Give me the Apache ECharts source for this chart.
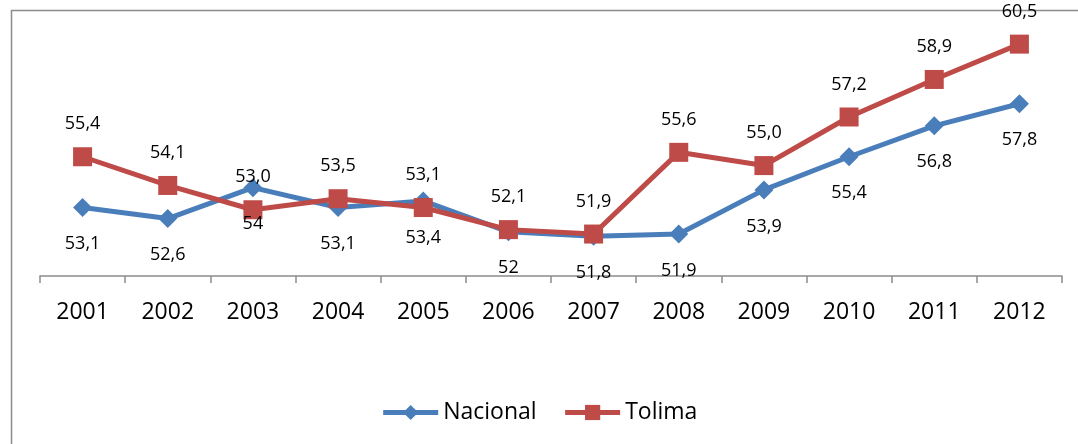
<!DOCTYPE html>
<html>
<head>
<meta charset="utf-8">
<script src="https://cdn.jsdelivr.net/npm/echarts@6/dist/echarts.min.js"></script>
<style>
html,body{margin:0;padding:0;background:#fff;}
#chart{width:1078px;height:444px;}
</style>
</head>
<body>
<div id="chart"></div>
<script>
var years = ['2001','2002','2003','2004','2005','2006','2007','2008','2009','2010','2011','2012'];
var nacional = [53.1, 52.6, 54, 53.1, 53.4, 52, 51.8, 51.9, 53.9, 55.4, 56.8, 57.8];
var tolima = [55.4, 54.1, 53.0, 53.5, 53.1, 52.1, 51.9, 55.6, 55.0, 57.2, 58.9, 60.5];

var fontFam = '"Open Sans", "Noto Sans", sans-serif';
var chart = echarts.init(document.getElementById('chart'));

var option = {
    animation: false,
    backgroundColor: '#fff',
    //marco gris del grafico
    graphic: [{
        type: 'rect',
        shape: {x: 11.5, y: 10.5, width: 1200, height: 600},
        style: {fill: 'none', stroke: '#8c8c8c', lineWidth: 1.5},
        silent: true
    }],
    grid: {left: 40, right: 16, top: 11, bottom: 168},
    legend: {
        bottom: 15,
        left: 'center',
        itemWidth: 55,
        itemHeight: 19,
        itemGap: 26,
        lineStyle: {width: 5},
        textStyle: {fontFamily: fontFam, fontSize: 23, color: '#000'},
        data: ['Nacional', 'Tolima']
    },
    xAxis: {
        type: 'category',
        data: years,
        boundaryGap: true,
        axisLine: {lineStyle: {color: '#8c8c8c', width: 1.5}},
        axisTick: {show: true, alignWithLabel: false, interval: 0, length: 7, lineStyle: {color: '#8c8c8c', width: 1.5}},
        axisLabel: {fontFamily: fontFam, fontSize: 23, color: '#000', margin: 25}
    },
    yAxis: {
        type: 'value',
        min: 50,
        max: 62,
        show: false,
        splitLine: {show: false}
    },
    series: [
        {
            name: 'Nacional',
            type: 'line',
            data: nacional,
            symbol: 'diamond',
            symbolSize: 19,
            lineStyle: {color: '#4a7ebb', width: 5},
            itemStyle: {color: '#4a7ebb'},
            label: {
                show: true,
                position: 'bottom',
                distance: 18,
                fontFamily: fontFam,
                fontSize: 18,
                color: '#000',
                formatter: function(p){ return String(p.value).replace('.', ','); }
            }
        },
        {
            name: 'Tolima',
            type: 'line',
            data: tolima,
            symbol: 'rect',
            symbolSize: 19,
            lineStyle: {color: '#be4b48', width: 5},
            itemStyle: {color: '#be4b48'},
            label: {
                show: true,
                position: 'top',
                distance: 14,
                fontFamily: fontFam,
                fontSize: 18,
                color: '#000',
                formatter: function(p){ return p.value.toFixed(1).replace('.', ','); }
            }
        }
    ]
};
chart.setOption(option);
</script>
</body>
</html>
